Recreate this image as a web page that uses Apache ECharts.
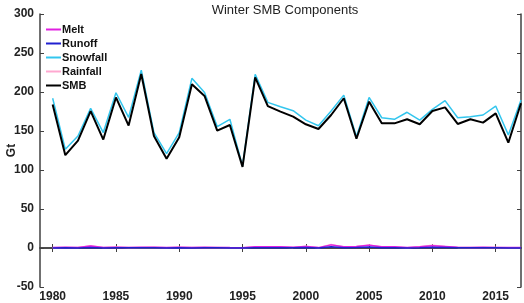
<!DOCTYPE html>
<html><head><meta charset="utf-8">
<script src="https://cdn.jsdelivr.net/npm/echarts@6/dist/echarts.min.js"></script>
<style>html,body{margin:0;padding:0;background:#fff}#c{width:524px;height:303px}</style>
</head><body><div id="c"></div>
<script>
const years = [];
for (let y = 1980; y <= 2017; y++) years.push(y);
const snowfall = [192,126.5,143.6,179,148,199,167.5,228,148,121,148,217.5,199.5,155.6,165,105,222.6,186.7,181,176,164,156.8,175.6,196,142.7,193,167,165,174,164,177.8,188.9,167,168.4,170.5,182,145,189.7];
const smb = [184,119,137.6,175.6,139,193,157,223,143.6,114.5,142,210,195,150.4,157.7,104,218.8,182,174.8,168.4,158.6,152.6,170.5,192,140,187.6,159.8,159.8,165,158.6,175.6,180.3,159,165,160.7,172.6,135,185.5];
const melt = [0.5,1,0.5,2.5,0.5,1,0.8,1,1,0.5,1,0.5,1,0.8,0.5,0.3,1.5,1.5,1.5,1,2,0.5,4,1.5,2,3.5,1.5,1.5,0.5,1.5,3,2,1,0.8,1,0.8,0.5,0.5];
const rainfall = [0.3,0.8,0.5,3,0.5,1.2,0.6,0.8,1,0.4,1,0.6,0.8,0.6,0.4,0.2,1.2,1.5,1.2,0.8,2.2,0.4,4.5,1.2,1.8,4,1.2,1.2,0.4,1.5,3.5,2,0.8,0.6,0.8,0.6,0.4,0.4];
const runoff = [0.1,0.3,0.1,0.8,0.1,0.3,0.2,0.3,0.3,0.1,0.3,0.1,0.3,0.2,0.1,0.1,0.4,0.4,0.4,0.3,0.6,0.1,1.5,0.4,0.6,1.2,0.4,0.4,0.1,0.4,1,0.8,0.3,0.2,0.3,0.2,0.1,0.1];
const xTicks = [1980,1985,1990,1995,2000,2005,2010,2015];
const yTicks = [-50,0,50,100,150,200,250,300];

const pairs = a => years.map((y,i)=>[y,a[i]]);
const axisCol = '#404040';
const font = 'Liberation Sans, Arial, sans-serif';
const chart = echarts.init(document.getElementById('c'));
const mk = (name, data, color, w, z) => ({
  name, type:'line', data:pairs(data), showSymbol:false, symbol:'none',
  lineStyle:{color, width:w}, itemStyle:{color}, z, animation:false
});
chart.setOption({
  animation:false,
  title:{text:'Winter SMB Components', left:280, top:-1, textAlign:'center',
    textStyle:{fontFamily:font, fontSize:13, fontWeight:'normal', color:'#222'}},
  grid:{left:40, right:3, top:14, bottom:16, containLabel:false, outerBoundsMode:'none'},
  legend:{left:41, top:19, orient:'vertical', itemWidth:15, itemHeight:2, itemGap:3,
    icon:'rect', data:['Melt','Runoff','Snowfall','Rainfall','SMB'],
    textStyle:{fontFamily:font, fontSize:11, fontWeight:'bold', color:'#111', padding:[0,0,0,-4]}},
  xAxis:[
    {type:'value', min:1979, max:2017, position:'bottom',
     axisLine:{show:true, lineStyle:{color:axisCol, width:1.5}},
     axisTick:{show:true, inside:true, length:4, customValues:xTicks, lineStyle:{color:axisCol}},
     axisLabel:{customValues:xTicks, formatter:v=>String(v), fontFamily:font, fontSize:12, fontWeight:'bold', color:'#222', margin:4},
     splitLine:{show:false}},
    {type:'value', min:1979, max:2017, position:'top',
     axisLine:{show:true, lineStyle:{color:axisCol, width:1.5}},
     axisTick:{show:true, inside:true, length:4, customValues:xTicks, lineStyle:{color:axisCol}},
     axisLabel:{show:false}, splitLine:{show:false}}
  ],
  yAxis:[
    {type:'value', min:-50, max:300, interval:50, position:'left', name:'Gt', nameLocation:'middle', nameGap:22,
     nameMoveOverlap:false,
     nameTextStyle:{fontFamily:font, fontSize:12, fontWeight:'bold', color:'#222'},
     axisLine:{show:true, lineStyle:{color:axisCol, width:1.5}},
     axisTick:{show:true, inside:true, length:4, lineStyle:{color:axisCol}},
     axisLabel:{fontFamily:font, fontSize:12, fontWeight:'bold', color:'#222', margin:6},
     splitLine:{show:false}},
    {type:'value', min:-50, max:300, interval:50, position:'right',
     axisLine:{show:true, lineStyle:{color:axisCol, width:1.5}},
     axisTick:{show:true, inside:true, length:4, lineStyle:{color:axisCol}},
     axisLabel:{show:false}, splitLine:{show:false}}
  ],
  series:[
    mk('Melt', melt, '#e020e0', 1.5, 3),
    mk('Runoff', runoff, '#2020d0', 1.5, 4),
    mk('Snowfall', snowfall, '#33c6ee', 1.5, 5),
    mk('Rainfall', rainfall, '#ffa8d0', 1.5, 2),
    mk('SMB', smb, '#000000', 2, 6)
  ]
});
</script></body></html>
